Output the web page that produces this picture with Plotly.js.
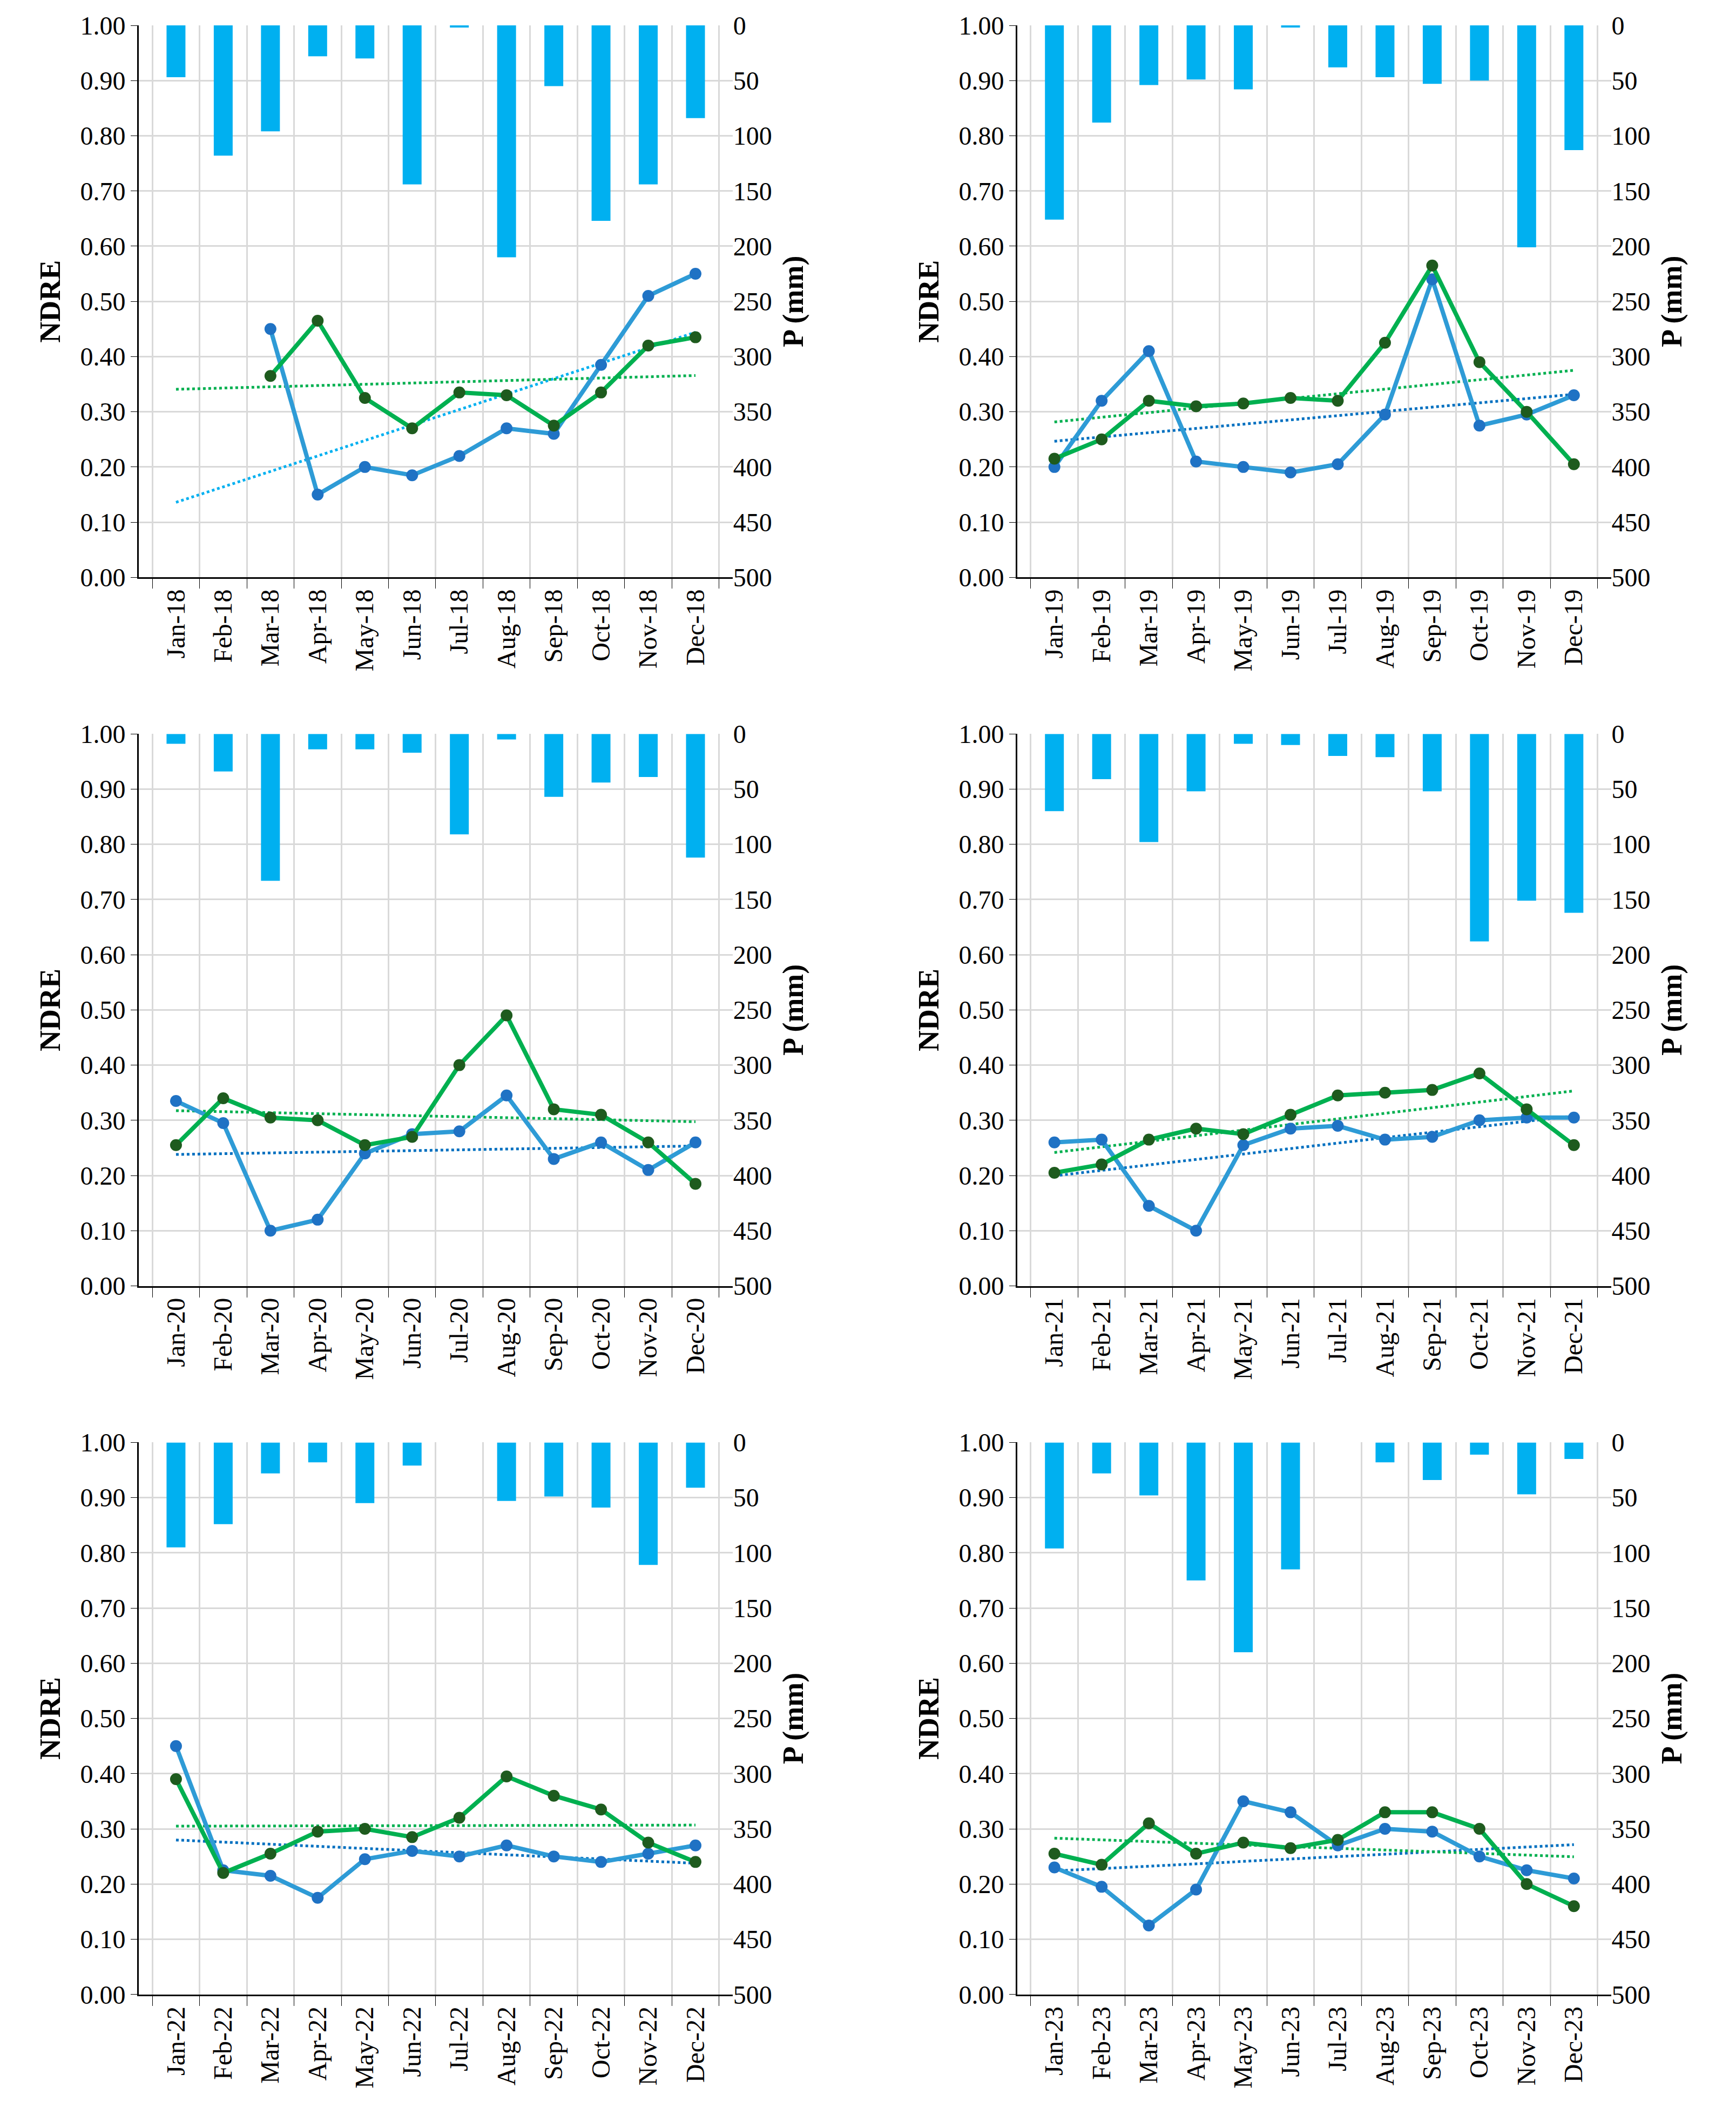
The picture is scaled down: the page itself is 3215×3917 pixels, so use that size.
<!DOCTYPE html>
<html><head><meta charset="utf-8">
<script src="https://cdn.plot.ly/plotly-3.0.1.min.js"></script>
<style>body{margin:0;background:#fff}#chart{width:3215px;height:3917px}</style>
</head><body><div id="chart"></div>
<script>
// month labels per year
const years = ['18','19','20','21','22','23'];
const months = ['Jan','Feb','Mar','Apr','May','Jun','Jul','Aug','Sep','Oct','Nov','Dec'];

// precipitation (mm)
const precip18 = [47,118,96,28,30,144,2,210,55,177,144,84];
const precip19 = [176,88,54,49,58,2,38,47,53,50,201,113];
const precip20 = [9,34,133,14,14,17,91,5,57,44,39,112];
const precip21 = [70,41,98,52,9,10,20,21,52,188,151,162];
const precip22 = [95,74,28,18,55,21,0,53,49,59,111,41];
const precip23 = [96,28,48,125,190,115,0,18,34,11,47,15];

// NDRE, blue series
const blue18 = [null,null,0.45,0.15,0.20,0.185,0.22,0.27,0.26,0.385,0.51,0.55];
const blue19 = [0.20,0.32,0.41,0.21,0.20,0.19,0.205,0.295,0.54,0.275,0.295,0.33];
const blue20 = [0.335,0.295,0.10,0.12,0.24,0.275,0.28,0.345,0.23,0.26,0.21,0.26];
const blue21 = [0.26,0.265,0.145,0.10,0.255,0.285,0.29,0.265,0.27,0.30,0.305,0.305];
const blue22 = [0.45,0.225,0.215,0.175,0.245,0.26,0.25,0.27,0.25,0.24,0.255,0.27];
const blue23 = [0.23,0.195,0.125,0.19,0.35,0.33,0.27,0.30,0.295,0.25,0.225,0.21];

// NDRE, green series
const green18 = [null,null,0.365,0.465,0.325,0.27,0.335,0.33,0.275,0.335,0.42,0.435];
const green19 = [0.215,0.25,0.32,0.31,0.315,0.325,0.32,0.425,0.565,0.39,0.30,0.205];
const green20 = [0.255,0.34,0.305,0.30,0.255,0.27,0.40,0.49,0.32,0.31,0.26,0.185];
const green21 = [0.205,0.22,0.265,0.285,0.275,0.31,0.345,0.35,0.355,0.385,0.32,0.255];
const green22 = [0.39,0.22,0.255,0.295,0.30,0.285,0.32,0.395,0.36,0.335,0.275,0.24];
const green23 = [0.255,0.235,0.31,0.255,0.275,0.265,0.28,0.33,0.33,0.30,0.20,0.16];

const precip = [precip18,precip19,precip20,precip21,precip22,precip23];
const blue = [blue18,blue19,blue20,blue21,blue22,blue23];
const green = [green18,green19,green20,green21,green22,green23];

const colDom = [[0.080,0.422],[0.586,0.928]];
const rowDom = [[0.727,0.988],[0.392,0.653],[0.057,0.318]];
const FONT = 'Liberation Serif, Times New Roman, serif';

function fit(vals){
  // least squares over available points, evaluated across the year
  let n=0,sx=0,sy=0,sxx=0,sxy=0;
  vals.forEach((v,i)=>{ if(v==null) return; n++; sx+=i; sy+=v; sxx+=i*i; sxy+=i*v; });
  const b=(n*sxy-sx*sy)/(n*sxx-sx*sx), a=(sy-b*sx)/n;
  return vals.map((_,i)=>a+b*i);
}

const data = [], layout = {
  width:3215, height:3917, margin:{l:0,r:0,t:0,b:0},
  paper_bgcolor:'#fff', plot_bgcolor:'#fff', showlegend:false,
  font:{family:FONT, size:48, color:'#000'}
};

for (let k=0;k<6;k++){
  const cats = months.map(m=>m+'-'+years[k]);
  const xa = 'x'+(k+1), ya = 'y'+(2*k+1), yb = 'y'+(2*k+2);
  const cd = colDom[k%2], rd = rowDom[Math.floor(k/2)];
  const trendBlue = k===0 ? '#00B0F0' : '#0070C0';

  data.push({x:cats, y:precip[k], type:'bar', xaxis:xa, yaxis:ya,
             marker:{color:'#00B0F0'}, width:0.4, hoverinfo:'none'});
  data.push({x:cats, y:fit(blue[k]), type:'scatter', mode:'lines', xaxis:xa, yaxis:yb,
             line:{color:trendBlue, width:5, dash:'dot'}});
  data.push({x:cats, y:fit(green[k]), type:'scatter', mode:'lines', xaxis:xa, yaxis:yb,
             line:{color:'#00B050', width:5, dash:'dot'}});
  data.push({x:cats, y:blue[k], type:'scatter', mode:'lines+markers', xaxis:xa, yaxis:yb,
             line:{color:'#2E9BD6', width:8}, marker:{color:'#1F72C4', size:22}});
  data.push({x:cats, y:green[k], type:'scatter', mode:'lines+markers', xaxis:xa, yaxis:yb,
             line:{color:'#00B050', width:8}, marker:{color:'#1E5B1E', size:22}});

  layout['xaxis'+(k+1)] = {domain:cd, anchor:ya, type:'category', tickson:'boundaries',
    ticks:'outside', ticklen:18, tickcolor:'#000', tickangle:-90, showline:true, linecolor:'#000',
    linewidth:3, showgrid:true, gridcolor:'#d9d9d9', gridwidth:3, tickfont:{size:48}, mirror:false};
  layout['yaxis'+(2*k+1)] = {domain:rd, anchor:xa, side:'right', range:[500,0], dtick:50,
    showgrid:true, gridcolor:'#d9d9d9', gridwidth:3, zeroline:false, showline:false,
    tickfont:{size:48}, title:{text:'<b>P (mm)</b>', font:{size:54}, standoff:20}};
  layout['yaxis'+(2*k+2)] = {overlaying:ya, anchor:xa, side:'left', range:[0,1], dtick:0.1,
    tickformat:'.2f', showgrid:false, zeroline:false, showline:true, linecolor:'#000', linewidth:3,
    ticks:'outside', ticklen:12, tickcolor:'#000', tickfont:{size:48},
    title:{text:'<b>NDRE</b>', font:{size:54}, standoff:20}};
}

Plotly.newPlot('chart', data, layout, {staticPlot:true});
</script></body></html>
